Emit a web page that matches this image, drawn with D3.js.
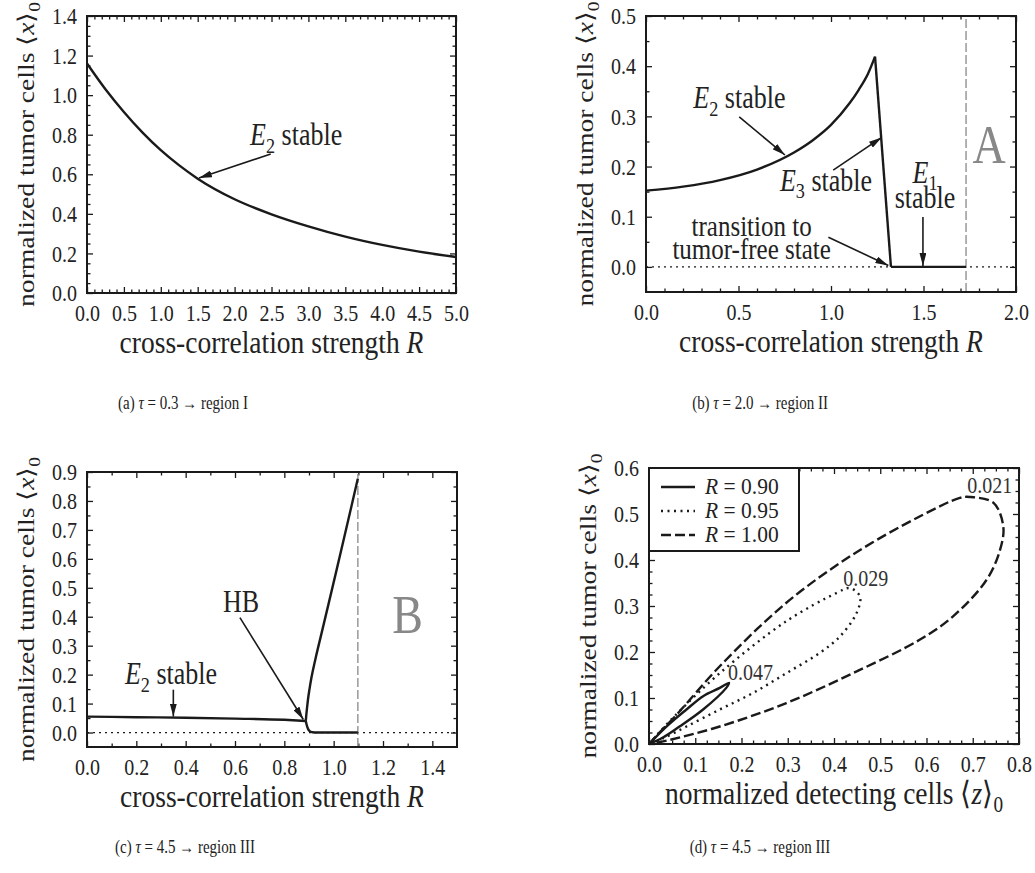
<!DOCTYPE html>
<html><head><meta charset="utf-8">
<script src="https://cdn.jsdelivr.net/npm/d3@7"></script>
<style>
body{margin:0;background:#fff}
svg{display:block}
text{font-family:"Liberation Serif","Times New Roman",serif;fill:#222}
</style>
</head><body>
<svg id="c" width="1035" height="873"></svg>
<script>
// ---------- data ----------
// (a) tau = 0.3
const aR = [0, 0.25, 0.5, 0.75, 1.0, 1.25, 1.5, 2.0, 2.5, 3.0, 3.5, 4.0, 4.5, 5.0];
const aX = [1.16, 1.03, 0.915, 0.812, 0.722, 0.645, 0.578, 0.474, 0.398, 0.337, 0.285, 0.243, 0.209, 0.182];
const aXTicks = [0, 0.5, 1.0, 1.5, 2.0, 2.5, 3.0, 3.5, 4.0, 4.5, 5.0];
const aYTicks = [0, 0.2, 0.4, 0.6, 0.8, 1.0, 1.2, 1.4];
// (b) tau = 2.0
const bE2R = [0, 0.2, 0.4, 0.6, 0.8, 0.9, 1.0, 1.1, 1.15, 1.2, 1.238];
const bE2X = [0.152, 0.16, 0.173, 0.194, 0.228, 0.252, 0.283, 0.326, 0.353, 0.385, 0.419];
const bE3R = [1.238, 1.324];
const bE3X = [0.419, 0.0];
const bE1R = [1.324, 1.73];
const bE1X = [0.0, 0.0];
const bBoundary = 1.73;
const bXTicks = [0, 0.5, 1.0, 1.5, 2.0];
const bYTicks = [0, 0.1, 0.2, 0.3, 0.4, 0.5];
// (c) tau = 4.5
const cE2R = [0, 0.2, 0.4, 0.6, 0.8, 0.887];
const cE2X = [0.055, 0.053, 0.051, 0.048, 0.044, 0.040];
const cUpR = [0.887, 0.889, 0.892, 0.896, 0.902, 0.91, 0.925, 0.95, 0.98, 1.01, 1.04, 1.07, 1.098];
const cUpX = [0.040, 0.060, 0.085, 0.115, 0.150, 0.190, 0.250, 0.340, 0.447, 0.555, 0.664, 0.774, 0.877];
const cLoR = [0.887, 0.892, 0.897, 0.905, 0.915, 0.93, 1.0, 1.098];
const cLoX = [0.040, 0.022, 0.011, 0.004, 0.001, 0.0, 0.0, 0.0];
const cBoundary = 1.098;
const cXTicks = [0, 0.2, 0.4, 0.6, 0.8, 1.0, 1.2, 1.4];
const cYTicks = [0, 0.1, 0.2, 0.3, 0.4, 0.5, 0.6, 0.7, 0.8, 0.9];
// (d) tau = 4.5, limit cycles
const dR = ["0.90", "0.95", "1.00"];
const dPeriodLabels = ["0.047", "0.029", "0.021"];
const d090Z = [0, 0.04, 0.081, 0.117, 0.153, 0.173, 0.167, 0.117, 0.066, 0.03, 0];
const d090X = [0, 0.04, 0.075, 0.104, 0.122, 0.133, 0.122, 0.075, 0.038, 0.014, 0];
const d095Z = [0, 0.05, 0.153, 0.297, 0.405, 0.434, 0.456, 0.449, 0.413, 0.369, 0.297, 0.225, 0.153, 0.081, 0.03, 0];
const d095X = [0, 0.055, 0.154, 0.267, 0.328, 0.339, 0.321, 0.285, 0.234, 0.198, 0.154, 0.111, 0.075, 0.038, 0.012, 0];
const d100Z = [0, 0.02, 0.06, 0.153, 0.297, 0.441, 0.586, 0.672, 0.694, 0.745, 0.766, 0.759, 0.730, 0.658, 0.586, 0.441, 0.297, 0.153, 0.045, 0];
const d100X = [0, 0.022, 0.064, 0.169, 0.307, 0.412, 0.495, 0.535, 0.537, 0.524, 0.473, 0.422, 0.357, 0.278, 0.227, 0.154, 0.089, 0.038, 0.009, 0];
const dXTicks = [0, 0.1, 0.2, 0.3, 0.4, 0.5, 0.6, 0.7, 0.8];
const dYTicks = [0, 0.1, 0.2, 0.3, 0.4, 0.5, 0.6];
const captions = ["(a)|0.3|I", "(b)|2.0|II", "(c)|4.5|III", "(d)|4.5|III"];

// ---------- drawing ----------
const SY = 1.2;
const INK = "#1a1a1a";
const svg = d3.select("#c");
const defs = svg.append("defs");
defs.append("marker").attr("id", "ah").attr("viewBox", "0 0 13 7")
  .attr("refX", 13).attr("refY", 3.5).attr("markerWidth", 13).attr("markerHeight", 7)
  .attr("markerUnits", "userSpaceOnUse").attr("orient", "auto")
  .append("path").attr("d", "M0,0 L13,3.5 L0,7 Z").attr("fill", INK);

function rich(sel, parts, size) {
  parts.forEach(p => {
    const t = sel.append("tspan").text(p.t);
    if (p.i) t.attr("font-style", "italic");
    if (p.sub) { t.attr("font-size", size * 0.7).attr("dy", size * 0.25); }
    if (p.back) t.attr("dy", -size * 0.25);
    if (p.nl !== undefined) t.attr("x", 0).attr("dy", p.nl);
  });
  return sel;
}
function T(g, x, y, parts, size, anchor, sy) {
  const t = g.append("text")
    .attr("transform", `translate(${x},${y}) scale(1,${sy || SY})`)
    .attr("font-size", size).attr("text-anchor", anchor || "start");
  if (typeof parts === "string") t.text(parts); else rich(t, parts, size);
  return t;
}
function minorVals(dom, step) {
  const out = [];
  for (let v = dom[0]; v <= dom[1] + 1e-9; v += step) out.push(+v.toFixed(4));
  return out;
}
function panel(box, xDom, yDom, xTicks, xStep, yTicks, yStep, xFmt, yFmt) {
  const x = d3.scaleLinear().domain(xDom).range([box.l, box.r]);
  const y = d3.scaleLinear().domain(yDom).range([box.b, box.t]);
  const g = svg.append("g");
  const xMin = minorVals([xTicks[0], xTicks[xTicks.length - 1]], xStep).filter(v => !xTicks.some(t => Math.abs(t - v) < 1e-6));
  const yMin = minorVals([yTicks[0], yTicks[yTicks.length - 1]], yStep).filter(v => !yTicks.some(t => Math.abs(t - v) < 1e-6));
  const ax = (fn, sc, vals, size, tr, fmt, pad) => {
    const a = fn(sc).tickValues(vals).tickSize(size).tickPadding(pad || 3).tickFormat(fmt || (() => ""));
    const ag = g.append("g").attr("transform", tr).call(a);
    ag.select(".domain").remove();
    ag.attr("font-size", 20).attr("font-family", null);
    ag.selectAll("line").attr("stroke", INK).attr("stroke-width", 1.3);
    ag.selectAll("text").attr("transform", `scale(1,${SY})`).attr("fill", "#222");
    return ag;
  };
  ax(d3.axisBottom, x, xTicks, -6, `translate(0,${box.b})`, xFmt, 9.3);
  ax(d3.axisBottom, x, xMin, -3.5, `translate(0,${box.b})`);
  ax(d3.axisTop, x, xTicks, -6, `translate(0,${box.t})`);
  ax(d3.axisTop, x, xMin, -3.5, `translate(0,${box.t})`);
  ax(d3.axisLeft, y, yTicks, -6, `translate(${box.l},0)`, yFmt, 10);
  ax(d3.axisLeft, y, yMin, -3.5, `translate(${box.l},0)`);
  ax(d3.axisRight, y, yTicks, -6, `translate(${box.r},0)`);
  ax(d3.axisRight, y, yMin, -3.5, `translate(${box.r},0)`);
  return {x, y, g};
}
function frameRect(box) {
  svg.append("rect").attr("x", box.l).attr("y", box.t).attr("width", box.r - box.l).attr("height", box.b - box.t)
    .attr("fill", "none").attr("stroke", INK).attr("stroke-width", 2);
}
const zip = (a, b) => a.map((v, i) => [v, b[i]]);
function curve(P, xs, ys, cv, style) {
  const line = d3.line().x(d => P.x(d[0])).y(d => P.y(d[1])).curve(cv || d3.curveLinear);
  const p = svg.append("path").attr("d", line(zip(xs, ys))).attr("fill", "none")
    .attr("stroke", INK).attr("stroke-width", 2.4).attr("stroke-linejoin", "round");
  if (style) Object.entries(style).forEach(([k, v]) => p.attr(k, v));
  return p;
}
function arrow(P, x1, y1, x2, y2) {
  svg.append("line").attr("x1", P.x(x1)).attr("y1", P.y(y1)).attr("x2", P.x(x2)).attr("y2", P.y(y2))
    .attr("stroke", INK).attr("stroke-width", 1.6).attr("marker-end", "url(#ah)");
}
function zeroLine(P, dom) {
  svg.append("line").attr("x1", P.x(dom[0])).attr("x2", P.x(dom[1])).attr("y1", P.y(0)).attr("y2", P.y(0))
    .attr("stroke", INK).attr("stroke-width", 1.3).attr("stroke-dasharray", "2,4");
}
function vBoundary(P, v, yDom) {
  svg.append("line").attr("x1", P.x(v)).attr("x2", P.x(v)).attr("y1", P.y(yDom[0])).attr("y2", P.y(yDom[1]))
    .attr("stroke", "#999").attr("stroke-width", 1.5).attr("stroke-dasharray", "9,3");
}
function yLabel(box) {
  const cx = box.l - 53, cy = (box.t + box.b) / 2;
  const t = svg.append("text").attr("transform", `translate(${cx},${cy}) scale(1,${SY}) rotate(-90)`)
    .attr("font-size", 23).attr("text-anchor", "middle");
  rich(t, [{t: "normalized tumor cells ⟨"}, {t: "x", i: true}, {t: "⟩"}, {t: "0", sub: true}], 23);
}
function xLabel(box, parts) {
  T(svg, (box.l + box.r) / 2, box.b + 60, parts, 27.5, "middle", 1.15);
}
function caption(cx, y, s) {
  const [lab, tau, reg] = s.split("|");
  T(svg, cx, y, [{t: lab + " "}, {t: "τ", i: true}, {t: " = " + tau + " → region " + reg}], 15, "middle");
}
const fmt1 = d3.format(".1f");
const Rlabel = [{t: "cross-correlation strength "}, {t: "R", i: true}];

// ---- (a)
const boxA = {l: 87, r: 456, t: 16, b: 293};
const A = panel(boxA, [0, 5], [0, 1.4], aXTicks, 0.1, aYTicks, 0.05, fmt1, fmt1);
curve(A, aR, aX, d3.curveMonotoneX);
T(svg, A.x(2.21), A.y(0.748), [{t: "E", i: true}, {t: "2", sub: true}, {t: " stable", back: true}], 26);
arrow(A, 2.49, 0.703, 1.517, 0.581);
frameRect(boxA);
yLabel(boxA); xLabel(boxA, Rlabel);
caption(183, 409, captions[0]);

// ---- (b)
const boxB = {l: 646, r: 1016, t: 16, b: 292};
const bYDom = [-0.05, 0.5];
const B = panel(boxB, [0, 2], bYDom, bXTicks, 0.1, bYTicks, 0.05, fmt1, fmt1);
zeroLine(B, [0, 2]);
vBoundary(B, bBoundary, bYDom);
curve(B, bE2R, bE2X, d3.curveMonotoneX);
curve(B, bE3R, bE3X);
curve(B, bE1R, bE1X);
T(svg, B.x(0.256), B.y(0.317), [{t: "E", i: true}, {t: "2", sub: true}, {t: " stable", back: true}], 26);
arrow(B, 0.504, 0.299, 0.751, 0.223);
T(svg, B.x(0.724), B.y(0.152), [{t: "E", i: true}, {t: "3", sub: true}, {t: " stable", back: true}], 26);
arrow(B, 1.012, 0.193, 1.274, 0.258);
// two-line label: "E1" over "stable" (line gap 25 px on screen)
T(svg, B.x(1.508), B.y(0.168), [{t: "E", i: true}, {t: "1", sub: true}, {t: "stable", nl: 25 / SY - 26 * 0.25}], 26, "middle");
arrow(B, 1.497, 0.0996, 1.497, 0.002);
T(svg, B.x(0.571), B.y(0.061), [{t: "transition to"}, {t: "tumor-free state", nl: 22.5 / SY}], 25, "middle");
arrow(B, 0.986, 0.059, 1.31, 0.003);
T(svg, B.x(1.855), B.y(0.207), "A", 46, "middle").style("fill", "#888");
frameRect(boxB);
yLabel(boxB); xLabel(boxB, Rlabel);
caption(760, 409, captions[1]);

// ---- (c)
const boxC = {l: 87, r: 457, t: 472, b: 747};
const cYDom = [-0.05, 0.9];
const C = panel(boxC, [0, 1.5], cYDom, cXTicks, 0.1, cYTicks, 0.05, fmt1, fmt1);
zeroLine(C, [0, 1.5]);
vBoundary(C, cBoundary, cYDom);
curve(C, cE2R, cE2X, d3.curveMonotoneX);
curve(C, cUpR, cUpX, d3.curveMonotoneX);
curve(C, cLoR, cLoX, d3.curveMonotoneX);
T(svg, C.x(0.551), C.y(0.418), "HB", 26);
arrow(C, 0.62, 0.397, 0.877, 0.045);
T(svg, C.x(0.154), C.y(0.166), [{t: "E", i: true}, {t: "2", sub: true}, {t: " stable", back: true}], 26);
arrow(C, 0.35, 0.148, 0.35, 0.055);
T(svg, C.x(1.30), C.y(0.345), "B", 46, "middle").style("fill", "#888");
frameRect(boxC);
yLabel(boxC); xLabel(boxC, Rlabel);
caption(185, 853, captions[2]);

// ---- (d)
const boxD = {l: 649, r: 1019, t: 468, b: 744};
const D = panel(boxD, [0, 0.8], [0, 0.6], dXTicks, 0.025, dYTicks, 0.025, fmt1, fmt1);
const cr = d3.curveCatmullRom.alpha(0.5);
const dStyles = [{}, {"stroke-dasharray": "2,4.5", "stroke-width": 2.4}, {"stroke-dasharray": "10,4"}];
curve(D, d090Z, d090X, cr, dStyles[0]);
curve(D, d095Z, d095X, cr, dStyles[1]);
curve(D, d100Z, d100X, cr, dStyles[2]);
T(svg, D.x(0.171), D.y(0.139), dPeriodLabels[0], 20).style("fill", "#333");
T(svg, D.x(0.42), D.y(0.344), dPeriodLabels[1], 20).style("fill", "#333");
T(svg, D.x(0.688), D.y(0.545), dPeriodLabels[2], 20).style("fill", "#333");
frameRect(boxD);
// legend
const lg = svg.append("g");
lg.append("rect").attr("x", boxD.l).attr("y", boxD.t).attr("width", 150).attr("height", 83)
  .attr("fill", "#fff").attr("stroke", INK).attr("stroke-width", 2);
dR.forEach((r, i) => {
  const yy = boxD.t + 19 + i * 24;
  const l = lg.append("line").attr("x1", boxD.l + 12).attr("x2", boxD.l + 46).attr("y1", yy).attr("y2", yy)
    .attr("stroke", INK).attr("stroke-width", 2.4);
  Object.entries(dStyles[i]).forEach(([k, v]) => l.attr(k, v));
  T(lg, boxD.l + 56, yy + 7, [{t: "R", i: true}, {t: " = " + r}], 21.5, "start", 1.1);
});
yLabel(boxD);
xLabel(boxD, [{t: "normalized detecting cells ⟨"}, {t: "z", i: true}, {t: "⟩"}, {t: "0", sub: true}]);
caption(760, 853, captions[3]);
</script>
</body></html>
